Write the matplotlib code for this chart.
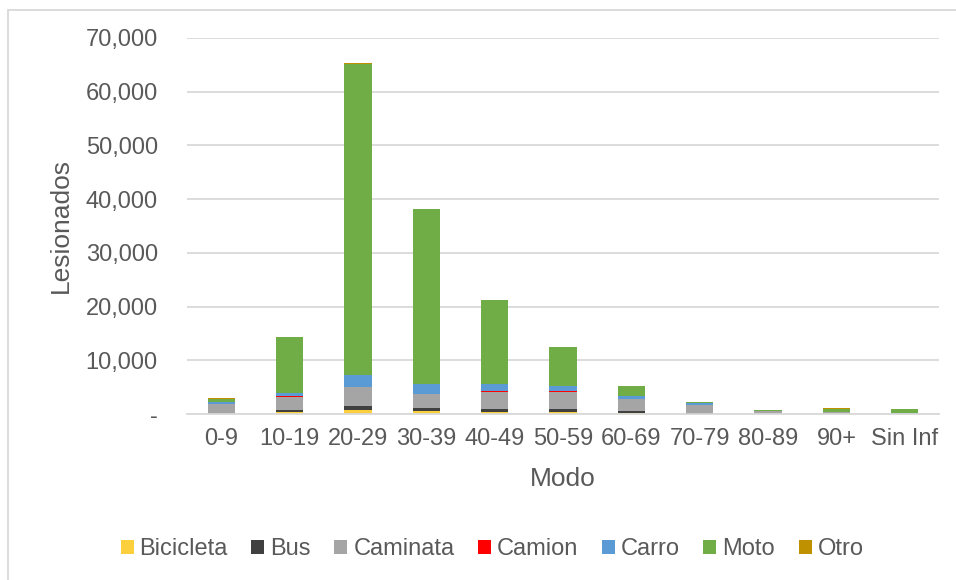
import matplotlib.pyplot as plt
import numpy as np
from matplotlib.patches import Rectangle
from matplotlib.ticker import FuncFormatter

plt.rcParams['font.family'] = ['Liberation Sans', 'DejaVu Sans']

grupos = ['0-9', '10-19', '20-29', '30-39', '40-49', '50-59',
          '60-69', '70-79', '80-89', '90+', 'Sin Inf']

bicicleta = [60, 430, 800, 500, 450, 310, 100, 40, 10, 10, 10]
bus = [30, 310, 680, 650, 560, 680, 520, 60, 10, 10, 10]
caminata = [1800, 2480, 3480, 2540, 3160, 3160, 2230, 1650, 480, 300, 60]
camion = [10, 60, 120, 120, 60, 40, 30, 10, 5, 5, 5]
carro = [330, 680, 2110, 1770, 1370, 1060, 560, 300, 40, 30, 20]
moto = [650, 10350, 58060, 32520, 15620, 7200, 1750, 220, 130, 650, 740]
otro = [10, 60, 120, 80, 60, 60, 50, 10, 20, 40, 20]

series = [('Bicicleta', bicicleta, '#FCD03C'),
          ('Bus', bus, '#404040'),
          ('Caminata', caminata, '#A5A5A5'),
          ('Camion', camion, '#FF0000'),
          ('Carro', carro, '#5B9BD5'),
          ('Moto', moto, '#70AD47'),
          ('Otro', otro, '#BF9000')]

txt = '#595959'
grid = '#D9D9D9'

fig = plt.figure(figsize=(9.56, 5.8), dpi=100)
ax = fig.add_axes([0.1956, 0.2862, 0.7866, 0.6483])

x = np.arange(len(grupos))
bottom = np.zeros(len(grupos))
handles = []
for name, vals, col in series:
    vals = np.array(vals, dtype=float)
    b = ax.bar(x, vals, 0.4, bottom=bottom, color=col, label=name,
               linewidth=0)
    handles.append(b)
    bottom = bottom + vals

ax.set_xlim(-0.5, len(grupos) - 0.5)
ax.set_ylim(0, 70000)
ax.set_yticks(np.arange(0, 70001, 10000))
ax.yaxis.set_major_formatter(
    FuncFormatter(lambda v, p: '-' if v == 0 else '{:,.0f}'.format(v)))
ax.set_xticks(x)
ax.set_xticklabels(grupos)

ax.grid(axis='y', color=grid, linewidth=1.3)
ax.set_axisbelow(True)
for s in ['top', 'right', 'left']:
    ax.spines[s].set_visible(False)
ax.spines['bottom'].set_color(grid)
ax.spines['bottom'].set_linewidth(1.3)
ax.tick_params(axis='both', length=0, labelsize=17, colors=txt)
ax.tick_params(axis='y', pad=21)
ax.tick_params(axis='x', pad=10)

ax.set_ylabel('Lesionados', fontsize=19, color=txt)
ax.set_xlabel('Modo', fontsize=19, color=txt)
ax.yaxis.set_label_coords(-0.152, 0.5)
ax.xaxis.set_label_coords(0.5, -0.141)

fig.legend(handles=handles, loc='center', bbox_to_anchor=(492 / 956, 1 - 549 / 580),
           ncol=7, frameon=False, fontsize=17, labelcolor=txt,
           handlelength=0.55, handleheight=0.55, handletextpad=0.25,
           columnspacing=1.0)

fig.patches.append(Rectangle((8 / 956, -0.1), 1.1, (570 / 580) + 0.1,
                             transform=fig.transFigure, fill=False,
                             edgecolor=grid, linewidth=1.3))

fig.savefig('out.png', dpi=100)
